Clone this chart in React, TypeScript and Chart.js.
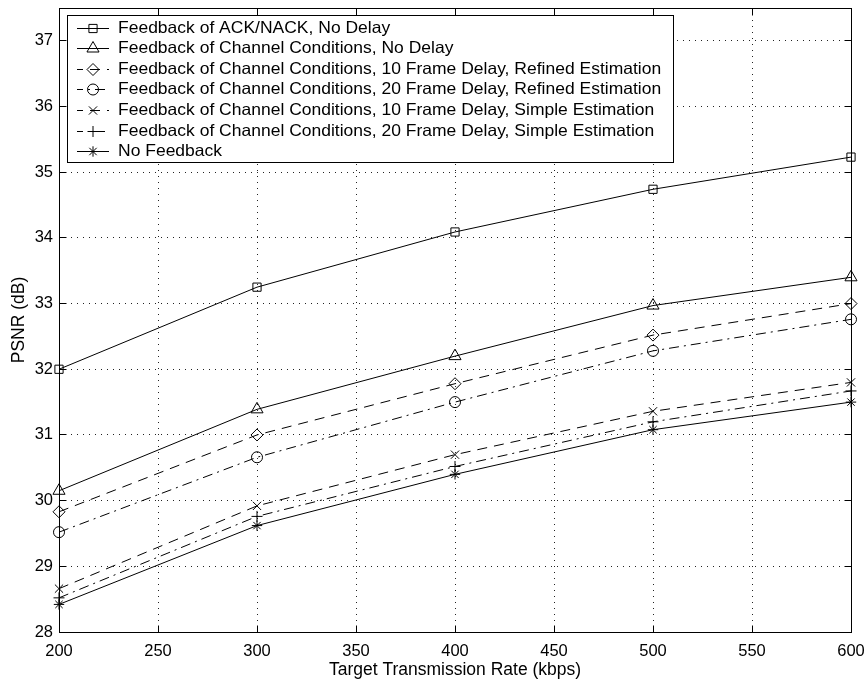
import React, { useEffect, useRef } from "react";
import { Chart, registerables } from "chart.js";
import { drawPoint } from "chart.js/helpers";

Chart.register(...registerables);

// Target transmission rate (kbps) at which each scheme was evaluated
const rates = [200, 300, 400, 500, 600];

// PSNR (dB) for each feedback scheme
const ackNoDelay = [32.0, 33.25, 34.09, 34.74, 35.23];
const chanNoDelay = [30.15, 31.39, 32.2, 32.97, 33.4];
const chan10Refined = [29.83, 31.0, 31.78, 32.52, 33.0];
const chan20Refined = [29.52, 30.66, 31.5, 32.28, 32.76];
const chan10Simple = [28.66, 29.92, 30.7, 31.36, 31.8];
const chan20Simple = [28.52, 29.76, 30.52, 31.2, 31.67];
const noFeedback = [28.42, 29.62, 30.4, 31.08, 31.5];

const seriesLabels = [
  "Feedback of ACK/NACK, No Delay",
  "Feedback of Channel Conditions, No Delay",
  "Feedback of Channel Conditions, 10 Frame Delay, Refined Estimation",
  "Feedback of Channel Conditions, 20 Frame Delay, Refined Estimation",
  "Feedback of Channel Conditions, 10 Frame Delay, Simple Estimation",
  "Feedback of Channel Conditions, 20 Frame Delay, Simple Estimation",
  "No Feedback",
];

// Axis ticks
const rateTicks = [200, 250, 300, 350, 400, 450, 500, 550, 600];
const psnrTicks = [28, 29, 30, 31, 32, 33, 34, 35, 36, 37];

const xTitle = "Target Transmission Rate (kbps)";
const yTitle = "PSNR (dB)";

const FONT = '"Liberation Sans", Arial, Helvetica, sans-serif';

type Style = { marker: string; radius: number; dash: number[] };

const DASHED = [10, 7];
const DASH_DOT = [10, 5, 2, 5];

const styles: Style[] = [
  { marker: "rect", radius: 5.8, dash: [] },
  { marker: "triangle", radius: 7, dash: [] },
  { marker: "rectRot", radius: 6, dash: DASHED },
  { marker: "circle", radius: 5.5, dash: DASH_DOT },
  { marker: "crossRot", radius: 5.8, dash: DASHED },
  { marker: "cross", radius: 5.5, dash: DASH_DOT },
  { marker: "star", radius: 5.2, dash: [] },
];

const seriesValues = [
  ackNoDelay,
  chanNoDelay,
  chan10Refined,
  chan20Refined,
  chan10Simple,
  chan20Simple,
  noFeedback,
];

// Box around the plot with inward tick marks on all four sides
const frameAndTicks = {
  id: "frameAndTicks",
  afterDatasetsDraw(chart: any) {
    const { ctx, chartArea } = chart;
    const xs = chart.scales.x;
    const ys = chart.scales.y;
    const L = Math.floor(chartArea.left) + 0.5;
    const R = Math.floor(chartArea.right) + 0.5;
    const T = Math.floor(chartArea.top) + 0.5;
    const B = Math.floor(chartArea.bottom) + 0.5;
    const tl = 7;
    ctx.save();
    ctx.strokeStyle = "#000";
    ctx.lineWidth = 1;
    ctx.setLineDash([]);
    ctx.beginPath();
    for (const v of rateTicks) {
      const px = Math.floor(xs.getPixelForValue(v)) + 0.5;
      ctx.moveTo(px, B);
      ctx.lineTo(px, B - tl);
      ctx.moveTo(px, T);
      ctx.lineTo(px, T + tl);
    }
    for (const v of psnrTicks) {
      const py = Math.floor(ys.getPixelForValue(v)) + 0.5;
      ctx.moveTo(L, py);
      ctx.lineTo(L + tl, py);
      ctx.moveTo(R, py);
      ctx.lineTo(R - tl, py);
    }
    ctx.stroke();
    ctx.strokeRect(L, T, R - L, B - T);
    ctx.restore();
  },
};

// Boxed legend in the upper left corner, each entry showing line style and marker
const boxedLegend = {
  id: "boxedLegend",
  afterDraw(chart: any) {
    const { ctx } = chart;
    const left = 67.5;
    const top = 15.5;
    const rowH = 20.6;
    const firstRow = top + 12;
    const lineX0 = 77;
    const lineX1 = 109;
    const textX = 118;
    const sx = 1.06;
    ctx.save();
    ctx.font = `16.5px ${FONT}`;
    let maxW = 0;
    for (const s of seriesLabels) maxW = Math.max(maxW, ctx.measureText(s).width * sx);
    const right = Math.round(textX + maxW + 12) + 0.5;
    const bottom = Math.round(firstRow + rowH * (seriesLabels.length - 1) + 11) + 0.5;
    ctx.fillStyle = "#fff";
    ctx.fillRect(left, top, right - left, bottom - top);
    ctx.strokeStyle = "#000";
    ctx.lineWidth = 1;
    ctx.strokeRect(left, top, right - left, bottom - top);

    seriesLabels.forEach((label, i) => {
      const cy = firstRow + i * rowH;
      const st = styles[i];
      const ly = Math.round(cy) + 0.5;
      ctx.strokeStyle = "#000";
      ctx.lineWidth = 1;
      ctx.setLineDash(st.dash);
      ctx.lineDashOffset = st.dash.length ? 4 : 0;
      ctx.beginPath();
      ctx.moveTo(lineX0, ly);
      ctx.lineTo(lineX1, ly);
      ctx.stroke();
      ctx.setLineDash([]);
      ctx.fillStyle = "rgba(0,0,0,0)";
      drawPoint(
        ctx,
        { pointStyle: st.marker, radius: st.radius, rotation: 0, borderWidth: 1 } as any,
        (lineX0 + lineX1) / 2,
        ly
      );
      ctx.fillStyle = "#000";
      ctx.textBaseline = "middle";
      ctx.textAlign = "left";
      ctx.save();
      ctx.translate(textX, cy + 0.5);
      ctx.scale(sx, 1);
      ctx.fillText(label, 0, 0);
      ctx.restore();
    });
    ctx.restore();
  },
};

export default function App() {
  const canvasRef = useRef<HTMLCanvasElement | null>(null);

  useEffect(() => {
    const canvas = canvasRef.current;
    if (!canvas) return;

    const datasets = seriesValues.map((vals, i) => ({
      label: seriesLabels[i],
      data: rates.map((r, j) => ({ x: r, y: vals[j] })),
      borderColor: "#000",
      borderWidth: 1,
      borderDash: styles[i].dash,
      pointStyle: styles[i].marker as any,
      pointRadius: styles[i].radius,
      pointHoverRadius: styles[i].radius,
      pointBorderColor: "#000",
      pointBorderWidth: 1,
      pointBackgroundColor: "rgba(0,0,0,0)",
      fill: false,
      tension: 0,
      clip: false as any,
    }));

    const chart = new Chart(canvas, {
      type: "line",
      data: { datasets },
      options: {
        responsive: false,
        animation: false,
        devicePixelRatio: 1,
        layout: { padding: { left: 0, top: 7, right: 16, bottom: 0 } },
        plugins: {
          legend: { display: false },
          tooltip: { enabled: false },
        },
        scales: {
          x: {
            type: "linear",
            min: 200,
            max: 600,
            afterFit(scale: any) {
              scale.height = 49;
              scale.paddingLeft = 0;
              scale.paddingRight = 0;
            },
            afterBuildTicks(scale: any) {
              scale.ticks = rateTicks.map((v) => ({ value: v }));
            },
            ticks: {
              color: "#000",
              font: { family: FONT, size: 16.5 },
              padding: 10,
              maxRotation: 0,
              autoSkip: false,
              callback: (v: any) => String(v),
            },
            grid: { color: "#222", lineWidth: 1, drawTicks: false },
            border: { display: false, dash: [1, 5] },
            title: {
              display: true,
              text: xTitle,
              color: "#000",
              font: { family: FONT, size: 17.5 },
              padding: { top: 0, bottom: 0 },
            },
          },
          y: {
            type: "linear",
            min: 28,
            max: 37.5,
            afterFit(scale: any) {
              scale.width = 59;
              scale.paddingTop = 0;
              scale.paddingBottom = 0;
            },
            afterBuildTicks(scale: any) {
              scale.ticks = psnrTicks.map((v) => ({ value: v }));
            },
            ticks: {
              color: "#000",
              font: { family: FONT, size: 16.5 },
              padding: 6,
              autoSkip: false,
              callback: (v: any) => String(v),
            },
            grid: { color: "#222", lineWidth: 1, drawTicks: false },
            border: { display: false, dash: [1, 5] },
            title: {
              display: true,
              text: yTitle,
              color: "#000",
              font: { family: FONT, size: 17.5 },
              padding: { top: 9, bottom: 0 },
            },
          },
        },
      },
      plugins: [frameAndTicks, boxedLegend],
    });

    return () => chart.destroy();
  }, []);

  return (
    <div style={{ position: "fixed", left: 0, top: 0, width: 867, height: 681, background: "#fff" }}>
      <canvas ref={canvasRef} width={867} height={681} style={{ width: 867, height: 681, display: "block" }} />
    </div>
  );
}
